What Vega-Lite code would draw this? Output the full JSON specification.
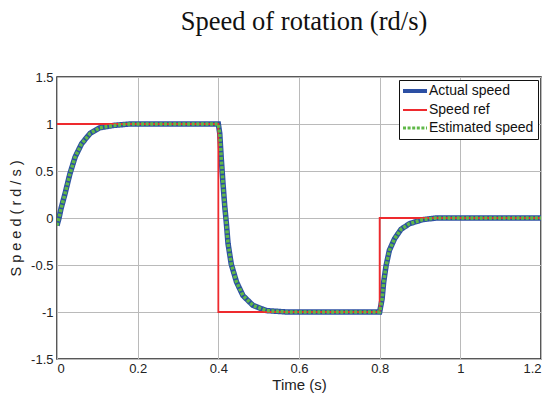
{
  "$schema": "https://vega.github.io/schema/vega-lite/v6.json",
  "width": 484,
  "height": 282,
  "autosize": {"type": "none"},
  "padding": {"left": 57, "top": 77, "right": 11, "bottom": 37},
  "background": "white",
  "title": {
    "text": "Speed of rotation (rd/s)",
    "font": "Liberation Serif",
    "fontSize": 26.5,
    "fontWeight": "normal",
    "color": "#111111",
    "anchor": "middle",
    "frame": "group",
    "offset": 36,
    "dx": 5
  },
  "datasets": {
    "actual": [
      {"t": 0, "v": -0.08}, {"t": 0.005, "v": 0.0}, {"t": 0.01, "v": 0.1}, {"t": 0.02, "v": 0.26},
      {"t": 0.032, "v": 0.47}, {"t": 0.045, "v": 0.65}, {"t": 0.061, "v": 0.79}, {"t": 0.082, "v": 0.9},
      {"t": 0.106, "v": 0.96}, {"t": 0.14, "v": 0.985}, {"t": 0.18, "v": 1.0}, {"t": 0.25, "v": 1.0},
      {"t": 0.3, "v": 1.0}, {"t": 0.4, "v": 1.0}, {"t": 0.4035, "v": 0.9}, {"t": 0.407, "v": 0.65},
      {"t": 0.4115, "v": 0.37}, {"t": 0.416, "v": 0.12}, {"t": 0.42, "v": -0.06}, {"t": 0.424, "v": -0.27},
      {"t": 0.432, "v": -0.49}, {"t": 0.445, "v": -0.68}, {"t": 0.461, "v": -0.825}, {"t": 0.486, "v": -0.93},
      {"t": 0.519, "v": -0.985}, {"t": 0.57, "v": -1.0}, {"t": 0.8, "v": -1.0}, {"t": 0.806, "v": -0.86},
      {"t": 0.81, "v": -0.68}, {"t": 0.816, "v": -0.505}, {"t": 0.824, "v": -0.345}, {"t": 0.837, "v": -0.22},
      {"t": 0.853, "v": -0.12}, {"t": 0.874, "v": -0.06}, {"t": 0.907, "v": -0.017}, {"t": 0.94, "v": 0.0},
      {"t": 1.2, "v": 0.0}
    ],
    "ref": [
      {"t": 0, "v": 1}, {"t": 0.4, "v": -1}, {"t": 0.8, "v": 0}, {"t": 1.2, "v": 0}
    ]
  },
  "encoding": {
    "x": {
      "field": "t", "type": "quantitative",
      "scale": {"domain": [0, 1.2], "nice": false, "zero": false},
      "axis": {"title": "Time (s)", "values": [0, 0.2, 0.4, 0.6, 0.8, 1, 1.2], "labelExpr": "replace(format(datum.value, '~g'), '\u2212', '-')"}
    },
    "y": {
      "field": "v", "type": "quantitative",
      "scale": {"domain": [-1.5, 1.5], "nice": false, "zero": false},
      "axis": {"title": "S p e e d  ( r d / s )", "values": [-1.5, -1, -0.5, 0, 0.5, 1, 1.5], "labelExpr": "replace(format(datum.value, '~g'), '\u2212', '-')"}
    }
  },
  "layer": [
    {
      "data": {"name": "actual"},
      "mark": {"type": "line", "clip": true, "strokeWidth": 5.5},
      "encoding": {
        "color": {"datum": "Actual speed", "type": "nominal", "scale": {"domain": ["Actual speed", "Speed ref", "Estimated speed"], "range": ["#2c4fa3", "#ee2a2e", "#5fb848"]}, "legend": {"title": null, "encode": {"symbols": {"update": {"strokeWidth": {"signal": "datum.value === 'Actual speed' ? 4 : (datum.value === 'Speed ref' ? 2 : 3)"}}}}}},
        "strokeDash": {"datum": "Actual speed", "type": "nominal", "scale": {"domain": ["Actual speed", "Speed ref", "Estimated speed"], "range": [[1, 0], [1, 0], [3, 1.6]]}, "legend": {"title": null}}
      }
    },
    {
      "data": {"name": "ref"},
      "mark": {"type": "line", "interpolate": "step-after", "clip": true, "strokeWidth": 1.8},
      "encoding": {
        "color": {"datum": "Speed ref", "type": "nominal"},
        "strokeDash": {"datum": "Speed ref", "type": "nominal"}
      }
    },
    {
      "data": {"name": "actual"},
      "mark": {"type": "line", "clip": true, "strokeWidth": 3.5},
      "encoding": {
        "color": {"datum": "Estimated speed", "type": "nominal"},
        "strokeDash": {"datum": "Estimated speed", "type": "nominal"}
      }
    }
  ],
  "config": {
    "view": {"stroke": "#222222", "strokeWidth": 1.5},
    "axis": {
      "domain": false,
      "ticks": false,
      "grid": true,
      "gridColor": "#bababa",
      "gridWidth": 1,
      "labelFont": "Liberation Sans",
      "labelFontSize": 13,
      "labelColor": "#222222",
      "titleFont": "Liberation Sans",
      "titleFontWeight": "normal",
      "titleColor": "#222222"
    },
    "axisX": {"labelPadding": 3, "titleFontSize": 15, "titlePadding": 2},
    "axisY": {"labelPadding": 4, "titleFontSize": 14.5, "titlePadding": 7},
    "legend": {
      "orient": "top-right",
      "offset": 3,
      "strokeColor": "#111111",
      "fillColor": "white",
      "padding": 4,
      "labelFont": "Liberation Sans",
      "labelFontSize": 14,
      "labelColor": "#111111",
      "labelOffset": 12,
      "symbolType": "M-1,0H2.43",
      "symbolSize": 196,
      "rowPadding": 4,
      "cornerRadius": 0
    }
  }
}
